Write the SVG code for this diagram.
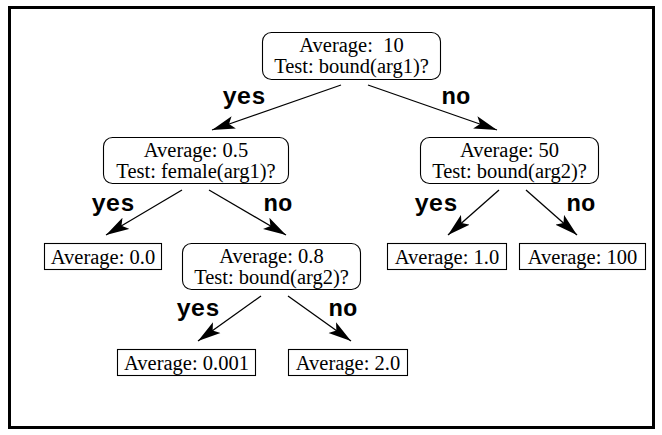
<svg xmlns="http://www.w3.org/2000/svg" width="662" height="435" viewBox="0 0 662 435">
<style>
.box{fill:#fff;stroke:#000;stroke-width:1.1}
.t{font-family:"Liberation Serif","Times New Roman",serif;font-size:20.5px;text-anchor:middle;fill:#000;white-space:pre}
.lbl{font-family:"Liberation Mono","Courier New",monospace;font-size:24px;font-weight:bold;text-anchor:middle;fill:#000}
.arr{stroke:#000;stroke-width:1.3;fill:none;marker-end:url(#ah)}
</style>
<defs>
<marker id="ah" markerUnits="userSpaceOnUse" markerWidth="24" markerHeight="14" refX="23" refY="7" orient="auto" viewBox="0 0 24 14">
<path d="M23,7 L0,0.5 L5,7 L0,13.5 Z" fill="#000"/>
</marker>
</defs>
<rect x="9.5" y="7.5" width="644" height="420" fill="#fff" stroke="#000" stroke-width="3"/>
<g id="connectors">
<line class="arr" x1="341" y1="85" x2="212" y2="130"/>
<line class="arr" x1="368" y1="85" x2="497" y2="130"/>
<line class="arr" x1="182" y1="190" x2="106" y2="235"/>
<line class="arr" x1="209" y1="190" x2="286" y2="235"/>
<line class="arr" x1="499" y1="190" x2="448" y2="235"/>
<line class="arr" x1="526" y1="190" x2="577" y2="235"/>
<line class="arr" x1="261" y1="296" x2="198" y2="341"/>
<line class="arr" x1="288" y1="296" x2="351" y2="341"/>
<text class="lbl" x="244" y="104">yes</text>
<text class="lbl" x="456" y="104">no</text>
<text class="lbl" x="113" y="211">yes</text>
<text class="lbl" x="278" y="211">no</text>
<text class="lbl" x="436" y="211">yes</text>
<text class="lbl" x="581" y="211">no</text>
<text class="lbl" x="198" y="316">yes</text>
<text class="lbl" x="343" y="316">no</text>
</g>
<g id="root">
<rect class="box" x="262.5" y="32.5" width="178" height="47" rx="9"/>
<text class="t" x="351.5" y="52">Average:  10</text>
<text class="t" x="351.5" y="73">Test: bound(arg1)?</text>
</g>
<g id="n05">
<rect class="box" x="103.5" y="137.5" width="185" height="46" rx="9"/>
<text class="t" x="196" y="157">Average: 0.5</text>
<text class="t" x="196" y="178">Test: female(arg1)?</text>
</g>
<g id="n50">
<rect class="box" x="420.5" y="137.5" width="178" height="46" rx="9"/>
<text class="t" x="509.5" y="157">Average: 50</text>
<text class="t" x="509.5" y="178">Test: bound(arg2)?</text>
</g>
<g id="leaf00">
<rect class="box" x="44.5" y="243.5" width="117" height="26"/>
<text class="t" x="103" y="264">Average: 0.0</text>
</g>
<g id="n08">
<rect class="box" x="182.5" y="243.5" width="178" height="46" rx="9"/>
<text class="t" x="271.5" y="263">Average: 0.8</text>
<text class="t" x="271.5" y="284">Test: bound(arg2)?</text>
</g>
<g id="leaf10">
<rect class="box" x="387.5" y="243.5" width="119" height="26"/>
<text class="t" x="447" y="264">Average: 1.0</text>
</g>
<g id="leaf100">
<rect class="box" x="519.5" y="243.5" width="126" height="26"/>
<text class="t" x="582.5" y="264">Average: 100</text>
</g>
<g id="leaf0001">
<rect class="box" x="117.5" y="349.5" width="138" height="26"/>
<text class="t" x="186.5" y="370">Average: 0.001</text>
</g>
<g id="leaf20">
<rect class="box" x="288.5" y="349.5" width="119" height="26"/>
<text class="t" x="348" y="370">Average: 2.0</text>
</g>
</svg>
